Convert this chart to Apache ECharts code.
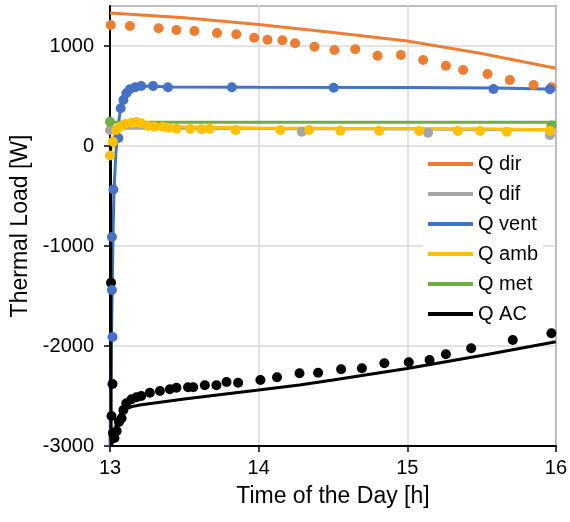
<!DOCTYPE html>
<html>
<head>
<meta charset="utf-8">
<script src="https://cdn.jsdelivr.net/npm/echarts@6/dist/echarts.min.js"></script>
<style>html,body{margin:0;padding:0;background:#fff}#c{width:570px;height:522px}</style>
</head>
<body>
<div id="c"></div>
<script>
// ---- data (time [h], load [W]) ----
var seriesNames = ['Q dir', 'Q dif', 'Q vent', 'Q amb', 'Q met', 'Q AC'];
var xTicks = [13, 14, 15, 16];
var yTicks = [-3000, -2000, -1000, 0, 1000];

var dirLine = [[13,1330],[13.5,1282],[14,1215],[14.5,1135],[15,1050],[15.5,925],[16,778]];
var dirDots = [[13.005,1210],[13.134,1200],[13.327,1177],[13.447,1160],[13.568,1150],[13.72,1130],[13.85,1117],[13.97,1083],[14.06,1063],[14.16,1057],[14.245,1027],[14.376,993],[14.51,960],[14.65,967],[14.80,903],[14.957,910],[15.107,860],[15.26,803],[15.376,760],[15.54,720],[15.69,660],[15.85,610],[15.97,587]];

var difLine = [[13,178],[14,175],[15,170],[16,160]];
var difDots = [[13.0,160],[14.29,143],[15.14,133],[15.96,110]];

var ventLine = [[13.0,-3000],[13.005,-2400],[13.01,-1900],[13.015,-1430],[13.02,-920],[13.027,-440],[13.04,-60],[13.055,200],[13.07,370],[13.09,460],[13.11,530],[13.13,565],[13.17,587],[13.21,597],[13.3,598],[13.4,590],[14,588],[15,585],[15.6,580],[16,568]];
var ventDots = [[13.017,-1910],[13.013,-1440],[13.013,-910],[13.023,-435],[13.056,80],[13.072,377],[13.09,460],[13.11,527],[13.134,567],[13.17,587],[13.21,600],[13.29,600],[13.39,587],[13.82,587],[14.505,583],[15.58,570],[15.96,567]];

var ambLine = [[13.0,-100],[13.01,-20],[13.02,60],[13.04,160],[13.07,205],[13.1,222],[13.15,225],[13.25,210],[13.5,192],[14,180],[14.5,177],[15,176],[15.5,173],[16,163]];
var ambDots = [[13.0,-95],[13.02,43],[13.042,160],[13.067,193],[13.1,220],[13.145,233],[13.178,240],[13.21,227],[13.256,200],[13.3,193],[13.356,193],[13.39,183],[13.447,173],[13.54,170],[13.614,167],[13.67,173],[13.845,160],[14.147,160],[14.34,160],[14.55,153],[14.81,153],[15.08,150],[15.34,150],[15.49,150],[15.67,143],[15.96,153]];

var metLine = [[13,237],[16,237]];
var metDots = [[13.0,243],[15.97,205]];

var acLine = [[13.003,50],[13.008,-3000],[13.02,-2950],[13.04,-2800],[13.07,-2680],[13.1,-2630],[13.15,-2605],[13.2,-2590],[13.5,-2530],[14,-2440],[14.275,-2390],[14.5,-2340],[15,-2225],[15.5,-2095],[16,-1957]];
var acDots = [[13.007,-1367],[13.017,-2380],[13.01,-2700],[13.02,-2870],[13.03,-2920],[13.045,-2850],[13.06,-2760],[13.078,-2723],[13.09,-2640],[13.11,-2573],[13.145,-2533],[13.178,-2513],[13.21,-2500],[13.268,-2467],[13.336,-2450],[13.403,-2433],[13.447,-2417],[13.525,-2413],[13.56,-2413],[13.638,-2393],[13.716,-2393],[13.784,-2360],[13.862,-2367],[14.012,-2340],[14.124,-2313],[14.275,-2273],[14.40,-2267],[14.555,-2233],[14.695,-2223],[14.846,-2173],[15.01,-2163],[15.15,-2140],[15.26,-2083],[15.43,-2023],[15.71,-1940],[15.97,-1873]];

var colors = ['#ED7D31', '#A5A5A5', '#4472C4', '#FFC000', '#70AD47', '#000000'];
var lines = [dirLine, difLine, ventLine, ambLine, metLine, acLine];
var dots = [dirDots, difDots, ventDots, ambDots, metDots, acDots];

var FONT = 'Liberation Sans, Arial, sans-serif';
var series = [];
lines.forEach(function (d, i) {
  series.push({
    name: seriesNames[i], type: 'line', data: d, showSymbol: false, symbol: 'none',
    lineStyle: { color: colors[i], width: 3 }, itemStyle: { color: colors[i] },
    z: 2, animation: false
  });
});
var dotOrder = [5, 0, 1, 2, 4, 3];
dotOrder.forEach(function (i) {
  series.push({
    name: seriesNames[i] + ' data', type: 'scatter', data: dots[i], symbol: 'circle', symbolSize: 10,
    itemStyle: { color: colors[i], opacity: 1 }, z: 3, animation: false
  });
});

var chart = echarts.init(document.getElementById('c'));
chart.setOption({
  animation: false,
  backgroundColor: '#fff',
  grid: { left: 110, right: 13, top: 6, bottom: 76, show: true, borderColor: '#404040', borderWidth: 1.5, backgroundColor: 'transparent' },
  legend: {
    data: seriesNames.map(function (n) { return { name: n, icon: 'rect' }; }),
    orient: 'vertical', left: 423, top: 149, itemWidth: 45, itemHeight: 4, itemGap: 10,
    padding: [5, 5, 5, 5], backgroundColor: '#fff',
    textStyle: { fontFamily: FONT, fontSize: 20, color: '#000' }, selectedMode: false
  },
  xAxis: {
    type: 'value', min: xTicks[0], max: xTicks[xTicks.length - 1], interval: 1,
    name: 'Time of the Day [h]', nameLocation: 'middle', nameGap: 39,
    nameTextStyle: { fontFamily: FONT, fontSize: 23, color: '#000' },
    axisLine: { show: true, onZero: false, lineStyle: { color: '#000', width: 2 } },
    axisTick: { show: true, inside: false, length: 6, lineStyle: { color: '#000', width: 1.5 } },
    axisLabel: { fontFamily: FONT, fontSize: 20, color: '#000', margin: 12 },
    splitLine: { show: true, lineStyle: { color: '#d9d9d9', width: 1.5 } }
  },
  yAxis: {
    type: 'value', min: yTicks[0], max: 1400, interval: 1000,
    name: 'Thermal Load [W]', nameLocation: 'middle', nameGap: 72,
    nameTextStyle: { fontFamily: FONT, fontSize: 23, color: '#000' },
    axisLine: { show: true, onZero: false, lineStyle: { color: '#000', width: 2 } },
    axisTick: { show: true, inside: false, length: 6, lineStyle: { color: '#000', width: 1.5 } },
    axisLabel: { fontFamily: FONT, fontSize: 20, color: '#000', margin: 16, showMaxLabel: false,
      formatter: function (v) { return yTicks.indexOf(v) >= 0 ? String(v) : ''; } },
    splitLine: { show: true, lineStyle: { color: '#d9d9d9', width: 1.5 } }
  },
  series: series
});
</script>
</body>
</html>
